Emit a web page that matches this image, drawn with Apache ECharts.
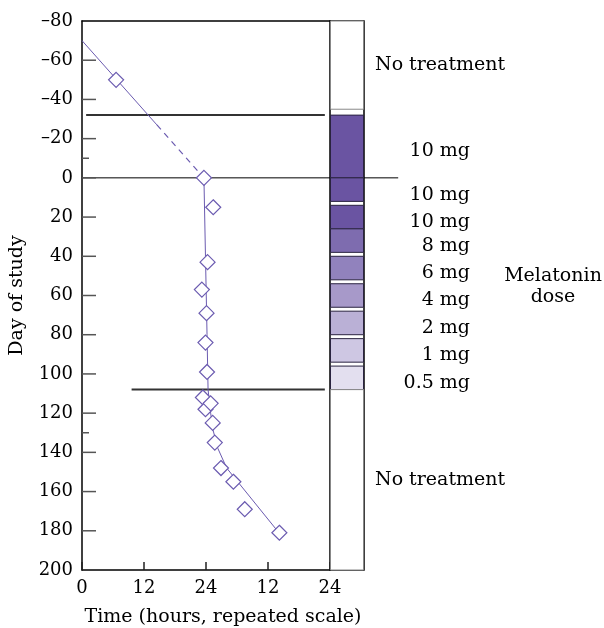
<!DOCTYPE html>
<html>
<head>
<meta charset="utf-8">
<script src="https://cdn.jsdelivr.net/npm/echarts@6/dist/echarts.min.js"></script>
<style>
  html, body { margin: 0; padding: 0; background: #fff; }
  #chart { width: 604px; height: 628px; }
</style>
</head>
<body>
<div id="chart"></div>
<script>
// phase onset (hour of day, repeated scale) vs day of study
var onsetHour = [6.6, 23.6, 25.4, 24.3, 23.2, 24.1, 23.9, 24.2, 23.4, 23.9, 24.9, 25.3, 25.7, 26.9, 29.3, 31.5, 38.2];
var onsetDay = [-50, 0, 15, 43, 57, 69, 84, 99, 112, 118, 115, 125, 135, 148, 155, 169, 181];

// fitted drift lines
var fitPreHour = [0, 14.5];
var fitPreDay = [-70, -27];
var fitGapHour = [14.5, 23.6];
var fitGapDay = [-27, 0];
var fitTreatHour = [23.6, 23.9, 24.2, 24.4, 24.9, 25.4, 26.3, 28.0, 38.3];
var fitTreatDay = [0, 40, 80, 108, 120, 129, 138, 148, 181.6];

// horizontal reference lines (day, from hour, to hour)
var refDay = [-32, 0, 108];
var refFrom = [0.8, 0, 9.6];
var refTo = [47, 61.2, 47];

// treatment blocks
var blockStart = [-80, -32, 0, 14, 26, 40, 54, 68, 82, 96, 108];
var blockEnd = [-35, 0, 12, 26, 38, 52, 66, 80, 94, 108, 200];
var blockDose = [0, 10, 10, 10, 8, 6, 4, 2, 1, 0.5, 0];
var blockLabel = ['No treatment', '10 mg', '10 mg', '10 mg', '8 mg', '6 mg', '4 mg', '2 mg', '1 mg', '0.5 mg', 'No treatment'];

var hourTicks = [0, 12, 24, 36, 48];
var majorDayTicks = [-60, -40, -20, 0, 20, 40, 60, 80, 100, 120, 140, 160, 180];
var minorDayTicks = [-10, 130];

var FONT = 'DejaVu Serif';
var PURPLE = '#6b5bb0';
var doseColor = {0: '#ffffff', 10: '#6a54a2', 8: '#7e6caf', 6: '#9182bd', 4: '#a799c9', 2: '#bab0d6', 1: '#cec7e3', 0.5: '#e3dfef'};

function pairs(xs, ys) {
    var out = [];
    for (var i = 0; i < xs.length; i++) out.push([xs[i], ys[i]]);
    return out;
}

var chart = echarts.init(document.getElementById('chart'));

var option = {
    animation: false,
    backgroundColor: '#fff',
    textStyle: {fontFamily: FONT, color: '#000'},
    grid: [
        {left: 82, top: 21, width: 248, height: 549, show: false, outerBoundsMode: 'none', containLabel: false},
        {left: 330, top: 21, width: 34, height: 549, show: true, borderColor: '#000', borderWidth: 1.5, outerBoundsMode: 'none', containLabel: false}
    ],
    xAxis: [{
        gridIndex: 0,
        type: 'value',
        min: 0,
        max: 48,
        interval: 12,
        splitLine: {show: false},
        axisLine: {show: true, onZero: false, lineStyle: {color: '#000', width: 1.5}},
        axisTick: {show: true, inside: true, length: 8, lineStyle: {color: '#222', width: 1.5}},
        axisLabel: {
            margin: 9,
            fontSize: 18,
            fontFamily: FONT,
            color: '#000',
            customValues: hourTicks,
            formatter: function (v) { return String(v > 24 ? v - 24 : v); }
        },
        name: 'Time (hours, repeated scale)',
        nameLocation: 'middle',
        nameGap: 38,
        nameTextStyle: {fontSize: 19, fontFamily: FONT, color: '#000', padding: [0, 0, 0, 34]}
    }, {
        gridIndex: 1,
        type: 'value',
        min: 0,
        max: 1,
        show: false
    }, {
        // top frame line
        gridIndex: 0,
        type: 'value',
        position: 'top',
        min: 0,
        max: 48,
        splitLine: {show: false},
        axisLine: {show: true, onZero: false, lineStyle: {color: '#000', width: 1.5}},
        axisTick: {show: false},
        axisLabel: {show: false}
    }],
    yAxis: [{
        gridIndex: 0,
        type: 'value',
        inverse: true,
        min: -80,
        max: 200,
        interval: 20,
        splitLine: {show: false},
        axisLine: {show: true, onZero: false, lineStyle: {color: '#000', width: 1.5}},
        axisTick: {show: false},
        axisLabel: {
            margin: 9,
            fontSize: 18,
            fontFamily: FONT,
            color: '#000',
            formatter: function (v) { return v < 0 ? '\u2013' + (-v) : String(v); }
        },
        name: 'Day of study',
        nameLocation: 'middle',
        nameGap: 55,
        nameTextStyle: {fontSize: 19, fontFamily: FONT, color: '#000'}
    }, {
        gridIndex: 1,
        type: 'value',
        inverse: true,
        min: -80,
        max: 200,
        show: false
    }],
    series: [{
        name: 'refLines',
        type: 'custom',
        xAxisIndex: 0,
        yAxisIndex: 0,
        clip: false,
        silent: true,
        data: refDay.map(function (d, i) { return [refFrom[i], d, refTo[i]]; }),
        renderItem: function (params, api) {
            var a = api.coord([api.value(0), api.value(1)]);
            var b = api.coord([api.value(2), api.value(1)]);
            var thin = api.value(1) === 0;
            return {
                type: 'line',
                shape: {x1: a[0], y1: a[1], x2: b[0], y2: b[1]},
                style: {stroke: thin ? '#000' : '#333', lineWidth: thin ? 1 : 2}
            };
        },
        z: 1
    }, {
        name: 'blocks',
        type: 'custom',
        xAxisIndex: 1,
        yAxisIndex: 1,
        clip: false,
        silent: true,
        data: blockStart.map(function (s, i) { return [s, blockEnd[i], blockDose[i]]; }),
        renderItem: function (params, api) {
            var i = params.dataIndex;
            var p0 = api.coord([0, api.value(0)]);
            var p1 = api.coord([1, api.value(1)]);
            var dose = api.value(2);
            var treated = dose > 0;
            var midY = (p0[1] + p1[1]) / 2;
            return {
                type: 'group',
                children: [{
                    type: 'rect',
                    shape: {x: p0[0] + 0.5, y: p0[1], width: p1[0] - p0[0] - 1, height: p1[1] - p0[1]},
                    style: {fill: doseColor[dose], stroke: treated ? '#2a2340' : '#888', lineWidth: 1}
                }, {
                    type: 'text',
                    x: treated ? p1[0] + 106 : p1[0] + 11,
                    y: treated ? midY + 5 : midY,
                    style: {
                        text: blockLabel[i],
                        textAlign: treated ? 'right' : 'left',
                        textVerticalAlign: 'middle',
                        font: '19px "DejaVu Serif"',
                        fill: '#000'
                    }
                }]
            };
        },
        z: 2
    }, {
        name: 'fitPre',
        type: 'line',
        xAxisIndex: 0,
        yAxisIndex: 0,
        data: pairs(fitPreHour, fitPreDay),
        showSymbol: false,
        lineStyle: {color: PURPLE, width: 1}
    }, {
        name: 'fitGap',
        type: 'line',
        xAxisIndex: 0,
        yAxisIndex: 0,
        data: pairs(fitGapHour, fitGapDay),
        showSymbol: false,
        lineStyle: {color: PURPLE, width: 1.2, type: [6, 5]}
    }, {
        name: 'fitTreat',
        type: 'line',
        xAxisIndex: 0,
        yAxisIndex: 0,
        data: pairs(fitTreatHour, fitTreatDay),
        showSymbol: false,
        lineStyle: {color: PURPLE, width: 1}
    }, {
        name: 'onset',
        type: 'scatter',
        xAxisIndex: 0,
        yAxisIndex: 0,
        data: pairs(onsetHour, onsetDay),
        symbol: 'diamond',
        symbolSize: 15,
        itemStyle: {color: '#fff', borderColor: PURPLE, borderWidth: 1.2, opacity: 1},
        z: 5
    }]
};
chart.setOption(option);

// day-axis inside ticks: positions come from the axis scale via convertToPixel
var tickEls = [];
function addTicks(days, len) {
    days.forEach(function (d) {
        var p = chart.convertToPixel({xAxisIndex: 0, yAxisIndex: 0}, [0, d]);
        tickEls.push({
            type: 'line',
            z: 100,
            silent: true,
            shape: {x1: p[0], y1: p[1], x2: p[0] + len, y2: p[1]},
            style: {stroke: '#555', lineWidth: 1.5}
        });
    });
}
addTicks(majorDayTicks, 14);
addTicks(minorDayTicks, 7);
tickEls.push({
    type: 'text',
    x: 553,
    y: 266,
    style: {text: 'Melatonin\ndose', font: '19px "DejaVu Serif"', fill: '#000', lineHeight: 21, textAlign: 'center'}
});
chart.setOption({graphic: tickEls});
</script>
</body>
</html>
